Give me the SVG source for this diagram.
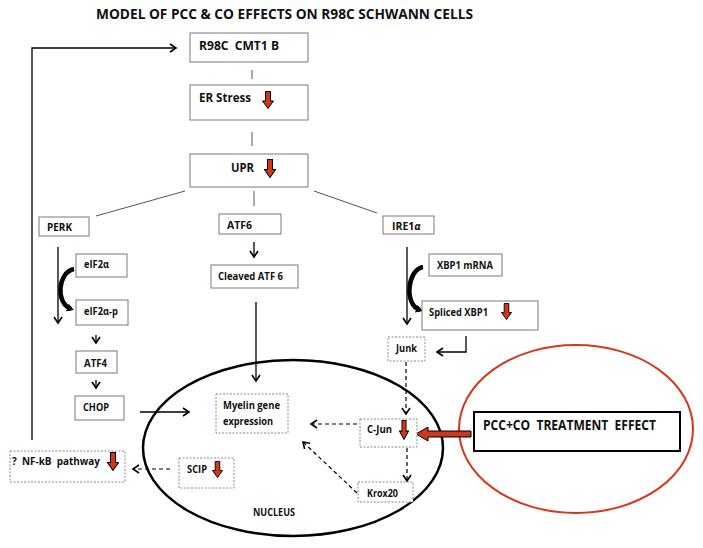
<svg xmlns="http://www.w3.org/2000/svg" width="703" height="548" viewBox="0 0 703 548">
<style>
text{font-family:"Open Sans","Liberation Sans",sans-serif;font-weight:700;fill:#111}
.t{font-size:10.5px}
.m{font-size:12px}
.box{fill:#fff;stroke:#7a7a7a;stroke-width:1}
.dbox{fill:#fff;stroke:#8a8a8a;stroke-width:1;stroke-dasharray:2,1.5}
.ln{fill:none;stroke:#555;stroke-width:1}
.ar{fill:none;stroke:#000;stroke-width:1.3;marker-end:url(#v)}
.da{fill:none;stroke:#000;stroke-width:1.2;stroke-dasharray:4,3;marker-end:url(#v)}
.cv{fill:none;stroke:#000;stroke-width:4.5;marker-end:url(#th)}
</style>
<defs>
<marker id="v" markerUnits="userSpaceOnUse" markerWidth="12" markerHeight="12" refX="7" refY="5" orient="auto"><path d="M1,1 L7,5 L1,9" fill="none" stroke="#000" stroke-width="1.6"/></marker>
<marker id="th" markerUnits="userSpaceOnUse" markerWidth="12" markerHeight="12" refX="4" refY="5" orient="auto"><path d="M0,1 L7,5 L0,9 Z" fill="#000"/></marker>
<symbol id="dn" viewBox="0 0 12 18" preserveAspectRatio="none"><path d="M3.5,0.5 H8.5 V10 H11.5 L6,17.5 L0.5,10 H3.5 Z" fill="#d0361c" stroke="#000" stroke-width="1"/></symbol>
</defs>
<rect width="703" height="548" fill="#fff"/>
<text x="96" y="19" font-size="14" textLength="377" lengthAdjust="spacingAndGlyphs">MODEL OF PCC &amp; CO EFFECTS ON R98C SCHWANN CELLS</text>

<g id="nucleus"><ellipse cx="293" cy="448" rx="150" ry="88" fill="none" stroke="#000" stroke-width="2.5"/><text x="253" y="516" font-size="10" textLength="42" lengthAdjust="spacingAndGlyphs">NUCLEUS</text></g>
<g id="pcc-ellipse"><ellipse cx="576" cy="429" rx="117" ry="84" fill="none" stroke="#d9341c" stroke-width="2"/></g>

<g id="connectors">
<path class="ar" d="M32,440 V48 H176" stroke="#333"/>
<path class="ln" d="M252,70 V79"/>
<path class="ln" d="M252,132 V146"/>
<path class="ln" d="M185,191 L96,216"/>
<path class="ln" d="M254,191 V206"/>
<path class="ln" d="M314,191 L377,213"/>
<path class="ar" d="M58,247 V323"/>
<path class="cv" d="M74,269 C58,272 55,303 71,309"/>
<path class="ar" d="M96,335 V343"/>
<path class="ar" d="M96,380 V388"/>
<path class="ar" d="M140,412 H189"/>
<path class="ar" d="M254,242 V257"/>
<path class="ar" d="M256,302 V381"/>
<path class="ar" d="M407,247 V324"/>
<path class="cv" d="M423,267 C407,270 404,305 420,310"/>
<path class="ar" d="M466,336 V352 H437"/>
<path class="da" d="M406,362 V414"/>
<path class="da" d="M407,448 V481"/>
<path class="da" d="M357,424 H311"/>
<path class="da" d="M357,493 L303,442"/>
<path class="da" d="M170,469 H133"/>
<path d="M471,431 H428 V427 L416,434 L428,441 V437 H471 Z" fill="#d0361c" stroke="#000" stroke-width="1"/>
</g>

<g id="r98c"><rect class="box" x="190" y="33" width="118" height="29"/><text class="m" x="199" y="50" textLength="80" lengthAdjust="spacingAndGlyphs" xml:space="preserve">R98C  CMT1 B</text></g>
<g id="er"><rect class="box" x="190" y="85" width="118" height="35"/><text class="m" x="199" y="102" textLength="52" lengthAdjust="spacingAndGlyphs">ER Stress</text><use href="#dn" x="262" y="91" width="12" height="18"/></g>
<g id="upr"><rect class="box" x="190" y="154" width="118" height="33"/><text class="m" x="231" y="172" textLength="23" lengthAdjust="spacingAndGlyphs">UPR</text><use href="#dn" x="264" y="159" width="12" height="19"/></g>
<g id="perk"><rect class="box" x="39" y="217" width="50" height="19"/><text class="t" x="47" y="231" textLength="25" lengthAdjust="spacingAndGlyphs">PERK</text></g>
<g id="atf6"><rect class="box" x="219" y="214" width="62" height="20"/><text class="t" x="227" y="229" textLength="25" lengthAdjust="spacingAndGlyphs">ATF6</text></g>
<g id="ire1"><rect class="box" x="383" y="216" width="51" height="18"/><text class="t" x="392" y="230">IRE1<tspan font-style="italic">α</tspan></text></g>
<g id="eif2a"><rect class="box" x="76" y="254" width="51" height="23"/><text class="t" x="84" y="268" textLength="25" lengthAdjust="spacingAndGlyphs">eIF2α</text></g>
<g id="eif2ap"><rect class="box" x="76" y="300" width="52" height="25"/><text class="t" x="84" y="315" textLength="34" lengthAdjust="spacingAndGlyphs">eIF2α-p</text></g>
<g id="atf4"><rect class="box" x="76" y="351" width="41" height="22"/><text class="t" x="84" y="367" textLength="23" lengthAdjust="spacingAndGlyphs">ATF4</text></g>
<g id="chop"><rect class="box" x="75" y="396" width="49" height="24"/><text class="t" x="83" y="411" textLength="26" lengthAdjust="spacingAndGlyphs">CHOP</text></g>
<g id="cleaved"><rect class="box" x="211" y="265" width="87" height="23"/><text class="t" x="218" y="280" textLength="65" lengthAdjust="spacingAndGlyphs">Cleaved ATF 6</text></g>
<g id="xbp1"><rect class="box" x="429" y="254" width="73" height="22"/><text class="t" x="437" y="269" textLength="56" lengthAdjust="spacingAndGlyphs">XBP1 mRNA</text></g>
<g id="spliced"><rect class="box" x="422" y="301" width="116" height="29"/><text class="t" x="429" y="316" textLength="59" lengthAdjust="spacingAndGlyphs">Spliced XBP1</text><use href="#dn" x="501" y="303" width="11" height="17"/></g>
<g id="junk"><rect class="dbox" x="388" y="337" width="37" height="24"/><text class="t" x="396" y="352" textLength="21" lengthAdjust="spacingAndGlyphs">Junk</text></g>
<g id="myelin"><rect class="dbox" x="216" y="394" width="72" height="39"/><text class="t" x="223" y="409" textLength="57" lengthAdjust="spacingAndGlyphs">Myelin gene</text><text class="t" x="223" y="425" textLength="50" lengthAdjust="spacingAndGlyphs">expression</text></g>
<g id="cjun"><rect class="dbox" x="360" y="419" width="57" height="28"/><text class="t" x="367" y="433" textLength="25" lengthAdjust="spacingAndGlyphs">C-Jun</text><use href="#dn" x="399" y="420" width="10" height="20"/></g>
<g id="krox20"><rect class="dbox" x="358" y="482" width="55" height="20"/><text class="t" x="367" y="497" textLength="31" lengthAdjust="spacingAndGlyphs">Krox20</text></g>
<g id="scip"><rect class="dbox" x="179" y="458" width="55" height="30"/><text class="t" x="187" y="473" textLength="20" lengthAdjust="spacingAndGlyphs">SCIP</text><use href="#dn" x="212" y="461" width="11" height="17"/></g>
<g id="nfkb"><rect class="dbox" x="10" y="451" width="115" height="31"/><text class="t" x="12" y="465" textLength="88" lengthAdjust="spacingAndGlyphs" xml:space="preserve">?  NF-kB  pathway</text><use href="#dn" x="107" y="452" width="12" height="19"/></g>
<g id="pcc"><rect x="474" y="412" width="206" height="39" fill="#fff" stroke="#000" stroke-width="2"/><text x="483" y="430" font-size="13.5" textLength="173" lengthAdjust="spacingAndGlyphs" xml:space="preserve">PCC+CO  TREATMENT  EFFECT</text></g>
</svg>
